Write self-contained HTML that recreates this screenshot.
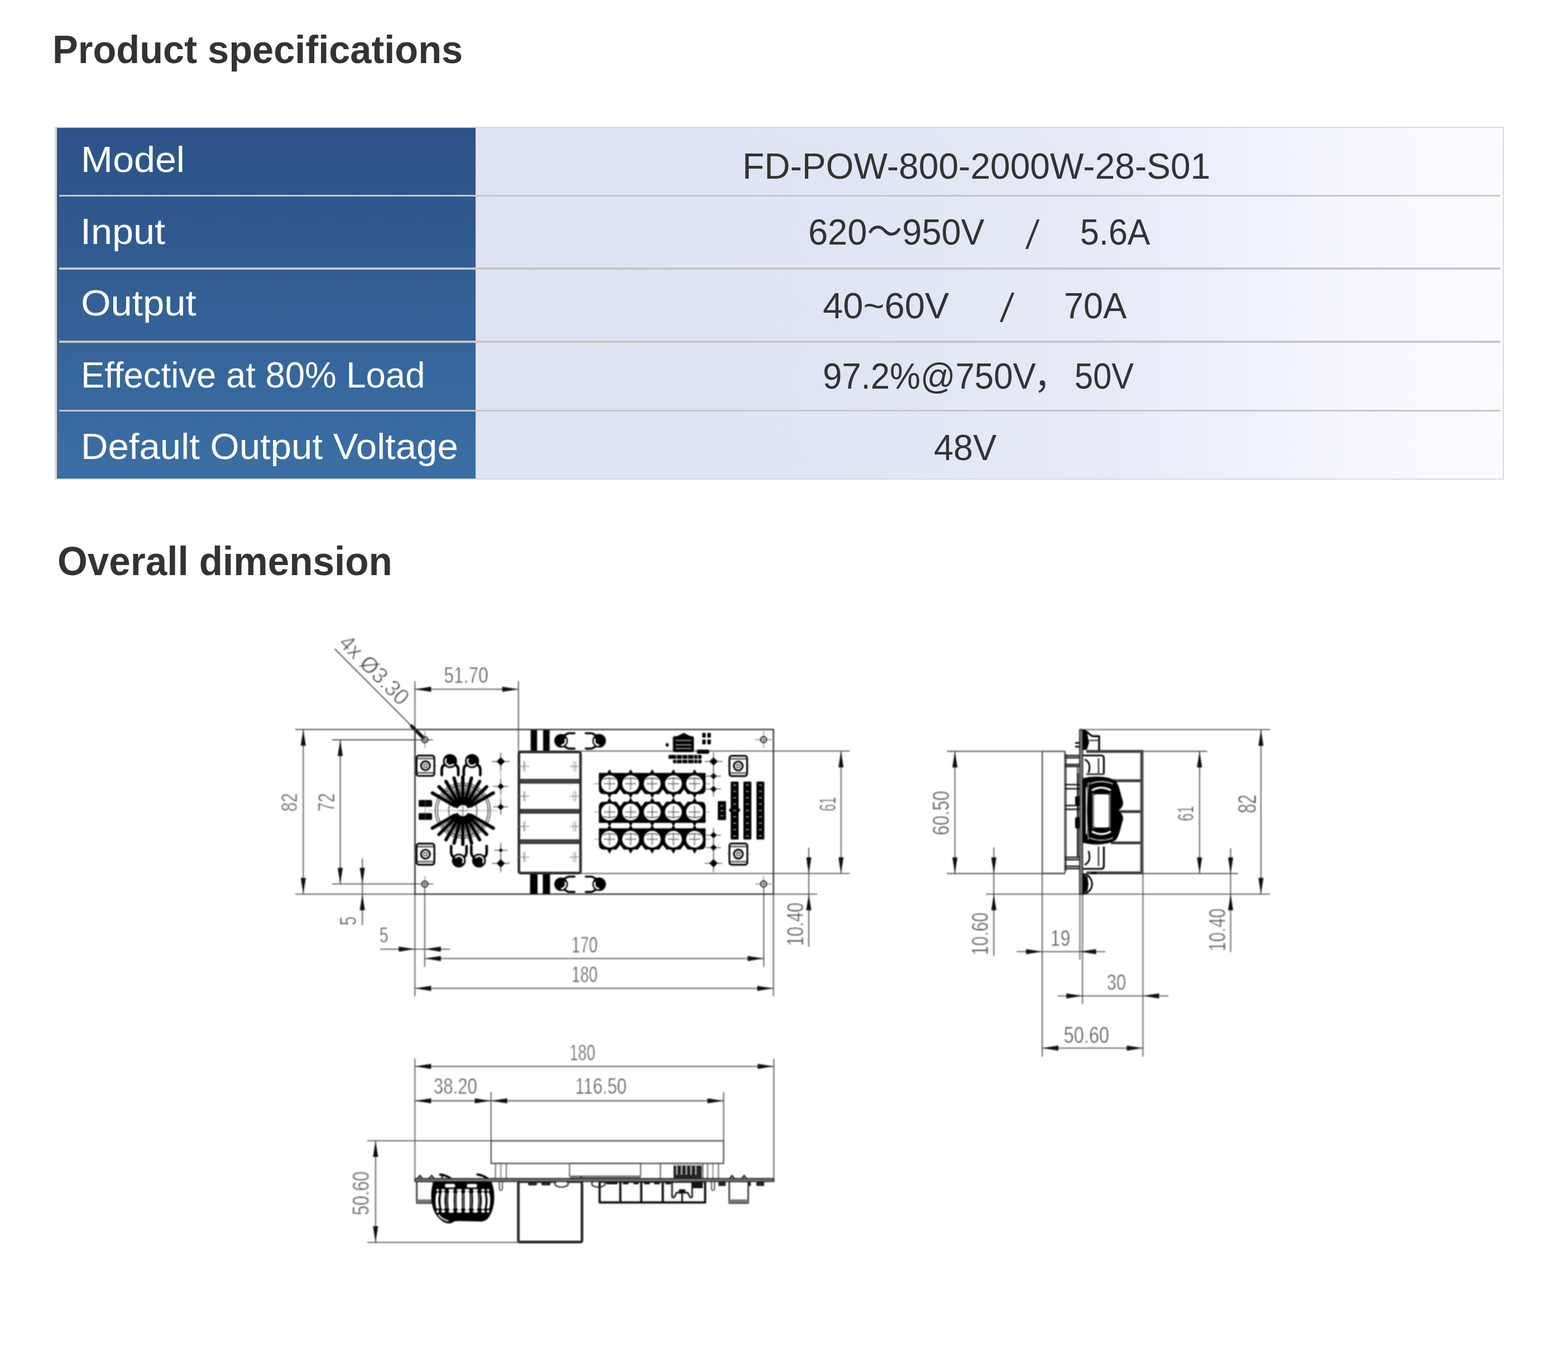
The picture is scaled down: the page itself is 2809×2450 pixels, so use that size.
<!DOCTYPE html>
<html lang="en">
<head>
<meta charset="utf-8">
<title>Product specifications</title>
<style>
html,body{margin:0;padding:0;background:#fff}
body{position:relative;width:2809px;height:2450px;overflow:hidden;font-family:"Liberation Sans","Noto Sans CJK SC",sans-serif;color:#333}
.t{position:absolute;display:block;white-space:pre;line-height:1;transform-origin:0 0;margin:0;padding:0;font-weight:400}
h1,h2{margin:0;padding:0;font-size:inherit;font-weight:inherit;position:absolute;left:0;top:0}
#spec{position:absolute;left:98px;top:227px;width:2596px;height:631.6px;box-sizing:border-box;
 border-style:solid;border-color:#ddd6d8;border-width:2px 2.5px 2.6px 4px;background:#e2e7f5}
#spec .k{position:absolute;left:0;top:0;width:750px;height:100%;background:linear-gradient(180deg,#2d5389 0%,#31598f 30%,#35659b 65%,#3a6fa5 100%)}
#spec .v{position:absolute;left:750px;top:0;right:0;height:100%;background:linear-gradient(90deg,#dee4f3 0%,#dfe5f4 35%,#e6eaf6 60%,#f3f5fb 82%,#fafbfe 100%)}
#spec .sep{position:absolute;left:3.5px;width:2582px;height:3.6px;background:#c9c6c7}
#spec .row{position:absolute;left:0;top:0;width:0;height:0}
#dwg{position:absolute;left:0;top:1100px}
</style>
</head>
<body>
<h1><span class="t" style="left:94.41px;top:49px;font-size:70.2px;line-height:79px;transform:scaleX(0.9767);font-weight:700;color:#333">Product specifications</span></h1>
<div id="spec">
<div class="k"></div><div class="v"></div>
<div class="sep" style="top:119.7px"></div>
<div class="sep" style="top:250.4px"></div>
<div class="sep" style="top:381.2px"></div>
<div class="sep" style="top:504.8px"></div>
<div class="row"><span class="t" style="left:42.7px;top:20px;font-size:65.7px;line-height:73px;transform:scaleX(1.0399);color:#fff">Model</span><span class="t" style="left:1227.54px;top:32px;font-size:65.7px;line-height:73px;transform:scaleX(0.9759);color:#333">FD-POW-800-2000W-28-S01</span></div>
<div class="row"><span class="t" style="left:42.19px;top:149px;font-size:65.7px;line-height:73px;transform:scaleX(1.0410);color:#fff">Input</span><span class="t" style="left:1345.6px;top:150px;font-size:65.55px;line-height:73px;transform:scaleX(0.9624);color:#333">620～950V</span><span class="t" style="left:1734.5px;top:151px;font-size:71.63px;line-height:80px;transform:matrix(0.8457,0,-0.1648,1,10.83,0);color:#333">/</span><span class="t" style="left:1832.56px;top:150px;font-size:65.55px;line-height:73px;transform:scaleX(0.9311);color:#333">5.6A</span></div>
<div class="row"><span class="t" style="left:42.74px;top:277px;font-size:65.7px;line-height:73px;transform:scaleX(1.0484);color:#fff">Output</span><span class="t" style="left:1371.51px;top:282px;font-size:65.7px;line-height:73px;transform:scaleX(0.9910);color:#333">40~60V</span><span class="t" style="left:1688.5px;top:282px;font-size:71.63px;line-height:80px;transform:matrix(0.8789,0,-0.1713,1,11.25,0);color:#333">/</span><span class="t" style="left:1803.76px;top:282px;font-size:65.7px;line-height:73px;transform:scaleX(0.9612);color:#333">70A</span></div>
<div class="row"><span class="t" style="left:43.09px;top:406px;font-size:65.7px;line-height:73px;transform:scaleX(0.9665);color:#fff">Effective at 80% Load</span><span class="t" style="left:1372.11px;top:408px;font-size:65.7px;line-height:73px;transform:scaleX(0.9391);color:#333">97.2%@750V</span><span class="t" style="left:1749.95px;top:408px;font-size:65.7px;line-height:73px;transform:scaleX(0.9523);color:#333">，</span><span class="t" style="left:1822.81px;top:408px;font-size:65.7px;line-height:73px;transform:scaleX(0.9072);color:#333">50V</span></div>
<div class="row"><span class="t" style="left:43.09px;top:534px;font-size:65.7px;line-height:73px;transform:scaleX(1.0224);color:#fff">Default Output Voltage</span><span class="t" style="left:1571.05px;top:536px;font-size:65.7px;line-height:73px;transform:scaleX(0.9600);color:#333">48V</span></div>
</div>
<h2><span class="t" style="left:102.76px;top:965px;font-size:71.8px;line-height:80px;transform:scaleX(0.9636);font-weight:700;color:#333">Overall dimension</span></h2>
<svg id="dwg" width="2809" height="1350" viewBox="0 1100 2809 1350" font-family="'Liberation Sans', sans-serif">
<style>#dwg text{stroke:#fff;stroke-width:1px;paint-order:fill stroke}</style>
<defs><filter id="soft" x="0" y="1100" width="2809" height="1350" filterUnits="userSpaceOnUse" color-interpolation-filters="sRGB"><feGaussianBlur stdDeviation="1.05"/></filter></defs>
<g filter="url(#soft)" stroke-linejoin="round">
<line x1="529" y1="1306.5" x2="743.3" y2="1306.5" stroke="#4d4d4d" stroke-width="1.8"/>
<line x1="529" y1="1601.3" x2="743.3" y2="1601.3" stroke="#4d4d4d" stroke-width="1.8"/>
<line x1="543.3" y1="1306.5" x2="543.3" y2="1601.3" stroke="#4d4d4d" stroke-width="1.8"/>
<polygon points="543.3,1306.5 547.9,1335.5 538.7,1335.5" fill="#111"/>
<polygon points="543.3,1601.3 538.7,1572.3 547.9,1572.3" fill="#111"/>
<text transform="translate(531.6 1452.3) rotate(-90)" x="-1.3" y="0" font-size="41.24" textLength="33.2" lengthAdjust="spacingAndGlyphs" fill="#404040">82</text>
<line x1="595" y1="1325" x2="775" y2="1325" stroke="#4d4d4d" stroke-width="1.8"/>
<line x1="595" y1="1583.2" x2="776" y2="1583.2" stroke="#4d4d4d" stroke-width="1.8"/>
<line x1="609.5" y1="1325" x2="609.5" y2="1583.2" stroke="#4d4d4d" stroke-width="1.8"/>
<polygon points="609.5,1325 614.1,1354 604.9,1354" fill="#111"/>
<polygon points="609.5,1583.2 604.9,1554.2 614.1,1554.2" fill="#111"/>
<text transform="translate(598.5 1452) rotate(-90)" x="-1.52" y="0" font-size="43.08" textLength="33.01" lengthAdjust="spacingAndGlyphs" fill="#404040">72</text>
<line x1="649.1" y1="1537.5" x2="649.1" y2="1656.7" stroke="#4d4d4d" stroke-width="1.8"/>
<polygon points="649.1,1583.2 644.5,1554.2 653.7,1554.2" fill="#111"/>
<polygon points="649.1,1601.3 653.7,1630.3 644.5,1630.3" fill="#111"/>
<text transform="translate(637.5 1656) rotate(-90)" x="-1.14" y="0" font-size="41.67" textLength="15.84" lengthAdjust="spacingAndGlyphs" fill="#404040">5</text>
<line x1="743.3" y1="1220" x2="743.3" y2="1784.5" stroke="#4d4d4d" stroke-width="1.8"/>
<line x1="1385.6" y1="1601.3" x2="1385.6" y2="1784.5" stroke="#4d4d4d" stroke-width="1.8"/>
<line x1="928.7" y1="1220" x2="928.7" y2="1347" stroke="#4d4d4d" stroke-width="1.8"/>
<line x1="743.3" y1="1234.4" x2="928.7" y2="1234.4" stroke="#4d4d4d" stroke-width="1.8"/>
<polygon points="743.3,1234.4 772.3,1229.8 772.3,1239" fill="#111"/>
<polygon points="928.7,1234.4 899.7,1239 899.7,1229.8" fill="#111"/>
<text x="795.13" y="1223.4" font-size="40.68" textLength="79.62" lengthAdjust="spacingAndGlyphs" fill="#404040">51.70</text>
<line x1="599.5" y1="1161.9" x2="748" y2="1311.2" stroke="#444" stroke-width="1.9"/>
<path d="M737.5 1300.5 L757.5 1320.6" fill="none" stroke="#111" stroke-width="6" stroke-linecap="round"/>
<text transform="translate(605 1153.5) rotate(45)" x="0" y="0" font-size="40.5" textLength="158" lengthAdjust="spacingAndGlyphs" fill="#404040">4x Ø3.30</text>
<line x1="760.8" y1="1590" x2="760.8" y2="1731.5" stroke="#4d4d4d" stroke-width="1.8"/>
<line x1="1368.3" y1="1590" x2="1368.3" y2="1731.5" stroke="#4d4d4d" stroke-width="1.8"/>
<line x1="681" y1="1699.8" x2="806.6" y2="1699.8" stroke="#4d4d4d" stroke-width="1.8"/>
<polygon points="743.3,1699.8 714.3,1704.4 714.3,1695.2" fill="#111"/>
<polygon points="760.8,1699.8 789.8,1695.2 789.8,1704.4" fill="#111"/>
<text x="679.85" y="1688" font-size="39.55" textLength="15.95" lengthAdjust="spacingAndGlyphs" fill="#404040">5</text>
<line x1="760.8" y1="1716.6" x2="1368.3" y2="1716.6" stroke="#4d4d4d" stroke-width="1.8"/>
<polygon points="760.8,1716.6 789.8,1712 789.8,1721.2" fill="#111"/>
<polygon points="1368.3,1716.6 1339.3,1721.2 1339.3,1712" fill="#111"/>
<text x="1023.87" y="1706.3" font-size="41.1" textLength="46.73" lengthAdjust="spacingAndGlyphs" fill="#404040">170</text>
<line x1="743.3" y1="1770.1" x2="1385.6" y2="1770.1" stroke="#4d4d4d" stroke-width="1.8"/>
<polygon points="743.3,1770.1 772.3,1765.5 772.3,1774.7" fill="#111"/>
<polygon points="1385.6,1770.1 1356.6,1774.7 1356.6,1765.5" fill="#111"/>
<text x="1023.87" y="1759.4" font-size="41.1" textLength="46.73" lengthAdjust="spacingAndGlyphs" fill="#404040">180</text>
<line x1="1040" y1="1345.2" x2="1522.3" y2="1345.2" stroke="#4d4d4d" stroke-width="1.8"/>
<line x1="1040" y1="1564.4" x2="1522.3" y2="1564.4" stroke="#4d4d4d" stroke-width="1.8"/>
<line x1="1506.6" y1="1345.2" x2="1506.6" y2="1564.4" stroke="#4d4d4d" stroke-width="1.8"/>
<polygon points="1506.6,1345.2 1511.2,1374.2 1502,1374.2" fill="#111"/>
<polygon points="1506.6,1564.4 1502,1535.4 1511.2,1535.4" fill="#111"/>
<text transform="translate(1496.5 1451.9) rotate(-90)" x="-1.18" y="0" font-size="43.08" textLength="25.81" lengthAdjust="spacingAndGlyphs" fill="#404040">61</text>
<line x1="1385.6" y1="1601.3" x2="1464.4" y2="1601.3" stroke="#4d4d4d" stroke-width="1.8"/>
<line x1="1448.9" y1="1518" x2="1448.9" y2="1695.6" stroke="#4d4d4d" stroke-width="1.8"/>
<polygon points="1448.9,1564.4 1444.3,1535.4 1453.5,1535.4" fill="#111"/>
<polygon points="1448.9,1601.3 1453.5,1630.3 1444.3,1630.3" fill="#111"/>
<text transform="translate(1439 1691.9) rotate(-90)" x="-2.37" y="0" font-size="42.94" textLength="77.89" lengthAdjust="spacingAndGlyphs" fill="#404040">10.40</text>
<rect x="743.3" y="1306.5" width="642.3" height="294.8" fill="none" stroke="#3a3a3a" stroke-width="2.6"/>
<line x1="746" y1="1324.6" x2="776" y2="1324.6" stroke="#777" stroke-width="1.3"/>
<line x1="761" y1="1309.6" x2="761" y2="1339.6" stroke="#777" stroke-width="1.3"/>
<circle cx="761" cy="1324.6" r="5.4" fill="none" stroke="#333" stroke-width="2.4"/>
<line x1="758" y1="1324.6" x2="764" y2="1324.6" stroke="#555" stroke-width="1.2"/>
<line x1="761" y1="1321.6" x2="761" y2="1327.6" stroke="#555" stroke-width="1.2"/>
<line x1="746" y1="1583.4" x2="776" y2="1583.4" stroke="#777" stroke-width="1.3"/>
<line x1="761" y1="1568.4" x2="761" y2="1598.4" stroke="#777" stroke-width="1.3"/>
<circle cx="761" cy="1583.4" r="5.4" fill="none" stroke="#333" stroke-width="2.4"/>
<line x1="758" y1="1583.4" x2="764" y2="1583.4" stroke="#555" stroke-width="1.2"/>
<line x1="761" y1="1580.4" x2="761" y2="1586.4" stroke="#555" stroke-width="1.2"/>
<line x1="1353" y1="1324.7" x2="1383" y2="1324.7" stroke="#777" stroke-width="1.3"/>
<line x1="1368" y1="1309.7" x2="1368" y2="1339.7" stroke="#777" stroke-width="1.3"/>
<circle cx="1368" cy="1324.7" r="5.4" fill="none" stroke="#333" stroke-width="2.4"/>
<line x1="1365" y1="1324.7" x2="1371" y2="1324.7" stroke="#555" stroke-width="1.2"/>
<line x1="1368" y1="1321.7" x2="1368" y2="1327.7" stroke="#555" stroke-width="1.2"/>
<line x1="1353" y1="1583.2" x2="1383" y2="1583.2" stroke="#777" stroke-width="1.3"/>
<line x1="1368" y1="1568.2" x2="1368" y2="1598.2" stroke="#777" stroke-width="1.3"/>
<circle cx="1368" cy="1583.2" r="5.4" fill="none" stroke="#333" stroke-width="2.4"/>
<line x1="1365" y1="1583.2" x2="1371" y2="1583.2" stroke="#555" stroke-width="1.2"/>
<line x1="1368" y1="1580.2" x2="1368" y2="1586.2" stroke="#555" stroke-width="1.2"/>
<line x1="742.1" y1="1371.3" x2="783.3" y2="1371.3" stroke="#999" stroke-width="1"/>
<rect x="746.3" y="1353.1" width="31.8" height="36.4" fill="#fff" stroke="#000" stroke-width="3.2" rx="4"/>
<line x1="747.1" y1="1358.5" x2="777.3" y2="1358.5" stroke="#333" stroke-width="2.2"/>
<line x1="747.1" y1="1384.1" x2="777.3" y2="1384.1" stroke="#333" stroke-width="2.2"/>
<circle cx="762.2" cy="1371.3" r="8" fill="none" stroke="#000" stroke-width="3.2"/>
<rect x="759.4" y="1368.5" width="5.6" height="5.6" fill="none" stroke="#333" stroke-width="1.6"/>
<line x1="742.1" y1="1529.75" x2="783.3" y2="1529.75" stroke="#999" stroke-width="1"/>
<rect x="746.3" y="1510.9" width="31.8" height="37.7" fill="#fff" stroke="#000" stroke-width="3.2" rx="4"/>
<line x1="747.1" y1="1516.3" x2="777.3" y2="1516.3" stroke="#333" stroke-width="2.2"/>
<line x1="747.1" y1="1543.2" x2="777.3" y2="1543.2" stroke="#333" stroke-width="2.2"/>
<circle cx="762.2" cy="1529.75" r="8" fill="none" stroke="#000" stroke-width="3.2"/>
<rect x="759.4" y="1526.95" width="5.6" height="5.6" fill="none" stroke="#333" stroke-width="1.6"/>
<line x1="1302.5" y1="1371.75" x2="1343.6" y2="1371.75" stroke="#999" stroke-width="1"/>
<rect x="1306.7" y="1353.7" width="31.7" height="36.1" fill="#fff" stroke="#000" stroke-width="3.2" rx="4"/>
<line x1="1307.5" y1="1359.1" x2="1337.6" y2="1359.1" stroke="#333" stroke-width="2.2"/>
<line x1="1307.5" y1="1384.4" x2="1337.6" y2="1384.4" stroke="#333" stroke-width="2.2"/>
<circle cx="1322.55" cy="1371.75" r="8" fill="none" stroke="#000" stroke-width="3.2"/>
<rect x="1319.75" y="1368.95" width="5.6" height="5.6" fill="none" stroke="#333" stroke-width="1.6"/>
<line x1="1302.5" y1="1529.65" x2="1344" y2="1529.65" stroke="#999" stroke-width="1"/>
<rect x="1306.7" y="1510.7" width="32.1" height="37.9" fill="#fff" stroke="#000" stroke-width="3.2" rx="4"/>
<line x1="1307.5" y1="1516.1" x2="1338" y2="1516.1" stroke="#333" stroke-width="2.2"/>
<line x1="1307.5" y1="1543.2" x2="1338" y2="1543.2" stroke="#333" stroke-width="2.2"/>
<circle cx="1322.75" cy="1529.65" r="8" fill="none" stroke="#000" stroke-width="3.2"/>
<rect x="1319.95" y="1526.85" width="5.6" height="5.6" fill="none" stroke="#333" stroke-width="1.6"/>
<circle cx="806.2" cy="1363" r="12.6" fill="#000"/>
<path d="M799 1359.5 A8 8 0 0 0 811.7 1368.8" fill="none" stroke="#fff" stroke-width="3" stroke-linecap="round"/>
<path d="M796.2 1370 Q791.4 1372 791.4 1379 L791.4 1388" fill="none" stroke="#000" stroke-width="4.8" stroke-linecap="round"/>
<path d="M816.2 1370 Q821 1372 821 1379 L821 1388" fill="none" stroke="#000" stroke-width="4.8" stroke-linecap="round"/>
<circle cx="845.6" cy="1363" r="12.6" fill="#000"/>
<path d="M838.4 1359.5 A8 8 0 0 0 851.1 1368.8" fill="none" stroke="#fff" stroke-width="3" stroke-linecap="round"/>
<path d="M835.6 1370 Q830.8 1372 830.8 1379 L830.8 1388" fill="none" stroke="#000" stroke-width="4.8" stroke-linecap="round"/>
<path d="M855.6 1370 Q860.4 1372 860.4 1379 L860.4 1388" fill="none" stroke="#000" stroke-width="4.8" stroke-linecap="round"/>
<circle cx="822" cy="1541.2" r="12.4" fill="#000"/>
<path d="M829.2 1544.7 A8 8 0 0 0 816.5 1535.4" fill="none" stroke="#fff" stroke-width="3" stroke-linecap="round"/>
<path d="M812 1534.2 Q808.2 1532.2 808.2 1525.2 L808.2 1515.2" fill="none" stroke="#000" stroke-width="4.6" stroke-linecap="round"/>
<path d="M832 1534.2 Q835.8 1532.2 835.8 1525.2 L835.8 1515.2" fill="none" stroke="#000" stroke-width="4.6" stroke-linecap="round"/>
<circle cx="858.1" cy="1541.2" r="12.4" fill="#000"/>
<path d="M865.3 1544.7 A8 8 0 0 0 852.6 1535.4" fill="none" stroke="#fff" stroke-width="3" stroke-linecap="round"/>
<path d="M848.1 1534.2 Q844.3 1532.2 844.3 1525.2 L844.3 1515.2" fill="none" stroke="#000" stroke-width="4.6" stroke-linecap="round"/>
<path d="M868.1 1534.2 Q871.9 1532.2 871.9 1525.2 L871.9 1515.2" fill="none" stroke="#000" stroke-width="4.6" stroke-linecap="round"/>
<rect x="750" y="1432.8" width="24" height="12" fill="#000" rx="1.5"/>
<rect x="750" y="1456.2" width="24" height="12" fill="#000" rx="1.5"/>
<line x1="762" y1="1432" x2="762" y2="1469" stroke="#666" stroke-width="1"/>
<line x1="767.1" y1="1451.7" x2="891.1" y2="1451.7" stroke="#999" stroke-width="1.1"/>
<circle cx="829.1" cy="1451.7" r="49.3" fill="none" stroke="#444" stroke-width="1.6"/>
<circle cx="829.1" cy="1451.7" r="45.3" fill="none" stroke="#444" stroke-width="1.6"/>
<circle cx="829.1" cy="1451.7" r="25.5" fill="none" stroke="#444" stroke-width="1.6"/>
<path d="M851.31 1434.65 L866.39 1423.09M846.15 1429.49 L857.71 1414.41M839.82 1425.83 L847.09 1408.28M832.75 1423.94 L835.23 1405.1M825.45 1423.94 L822.97 1405.1M818.38 1425.83 L811.11 1408.28M812.05 1429.49 L800.49 1414.41M806.89 1434.65 L791.81 1423.09M806.89 1468.75 L791.81 1480.31M812.05 1473.91 L800.49 1488.99M818.38 1477.57 L811.11 1495.12M825.45 1479.46 L822.97 1498.3M832.75 1479.46 L835.23 1498.3M839.82 1477.57 L847.09 1495.12M846.15 1473.91 L857.71 1488.99M851.31 1468.75 L866.39 1480.31" fill="none" stroke="#222" stroke-width="1.5" stroke-linecap="butt"/>
<path d="M843.82 1443.2 L883.66 1420.2M841.12 1439.68 L871.74 1409.06M837.6 1436.98 L859.25 1399.48M833.5 1435.28 L844.71 1393.45M829.1 1434.7 L829.1 1391.4M824.7 1435.28 L813.49 1393.45M820.6 1436.98 L798.95 1399.48M817.08 1439.68 L786.46 1409.06M814.38 1443.2 L774.54 1420.2M814.38 1460.2 L774.54 1483.2M817.08 1463.72 L786.46 1494.34M820.6 1466.42 L798.95 1503.92M824.7 1468.12 L813.49 1509.95M829.1 1468.7 L829.1 1512M833.5 1468.12 L844.71 1509.95M837.6 1466.42 L859.25 1503.92M841.12 1463.72 L871.74 1494.34M843.82 1460.2 L883.66 1483.2" fill="none" stroke="#000" stroke-width="6" stroke-linecap="round"/>
<path d="M845.09 1444.58 A17.5 17.5 0 0 0 813.11 1444.58" fill="none" stroke="#000" stroke-width="15"/>
<path d="M813.11 1458.82 A17.5 17.5 0 0 0 845.09 1458.82" fill="none" stroke="#000" stroke-width="15"/>
<circle cx="829.1" cy="1451.7" r="9.2" fill="#fff"/>
<line x1="820.1" y1="1451.7" x2="838.1" y2="1451.7" stroke="#666" stroke-width="1.4"/>
<line x1="829.1" y1="1442.7" x2="829.1" y2="1460.7" stroke="#666" stroke-width="1.4"/>
<line x1="897.1" y1="1350" x2="897.1" y2="1460" stroke="#888" stroke-width="1"/>
<line x1="897.1" y1="1508" x2="897.1" y2="1560" stroke="#888" stroke-width="1"/>
<line x1="881.1" y1="1363.7" x2="913.1" y2="1363.7" stroke="#555" stroke-width="1.5"/>
<line x1="897.1" y1="1347.7" x2="897.1" y2="1379.7" stroke="#555" stroke-width="1.5"/>
<path d="M897.1 1355.3 Q899.62 1361.18 905.5 1363.7 Q899.62 1366.22 897.1 1372.1 Q894.58 1366.22 888.7 1363.7 Q894.58 1361.18 897.1 1355.3Z" fill="#000" stroke="none" stroke-width="0"/>
<circle cx="897.1" cy="1363.7" r="5.54" fill="#000"/>
<line x1="883.6" y1="1408.5" x2="910.6" y2="1408.5" stroke="#555" stroke-width="1.5"/>
<line x1="897.1" y1="1395" x2="897.1" y2="1422" stroke="#555" stroke-width="1.5"/>
<path d="M897.1 1402.3 Q898.96 1406.64 903.3 1408.5 Q898.96 1410.36 897.1 1414.7 Q895.24 1410.36 890.9 1408.5 Q895.24 1406.64 897.1 1402.3Z" fill="#000" stroke="none" stroke-width="0"/>
<circle cx="897.1" cy="1408.5" r="4.09" fill="#000"/>
<line x1="883.6" y1="1445.1" x2="910.6" y2="1445.1" stroke="#555" stroke-width="1.5"/>
<line x1="897.1" y1="1431.6" x2="897.1" y2="1458.6" stroke="#555" stroke-width="1.5"/>
<path d="M897.1 1438.9 Q898.96 1443.24 903.3 1445.1 Q898.96 1446.96 897.1 1451.3 Q895.24 1446.96 890.9 1445.1 Q895.24 1443.24 897.1 1438.9Z" fill="#000" stroke="none" stroke-width="0"/>
<circle cx="897.1" cy="1445.1" r="4.09" fill="#000"/>
<line x1="885.1" y1="1522.8" x2="909.1" y2="1522.8" stroke="#555" stroke-width="1.5"/>
<line x1="897.1" y1="1510.8" x2="897.1" y2="1534.8" stroke="#555" stroke-width="1.5"/>
<path d="M897.1 1518.8 Q898.3 1521.6 901.1 1522.8 Q898.3 1524 897.1 1526.8 Q895.9 1524 893.1 1522.8 Q895.9 1521.6 897.1 1518.8Z" fill="#000" stroke="none" stroke-width="0"/>
<circle cx="897.1" cy="1522.8" r="2.64" fill="#000"/>
<line x1="881.1" y1="1546.2" x2="913.1" y2="1546.2" stroke="#555" stroke-width="1.5"/>
<line x1="897.1" y1="1530.2" x2="897.1" y2="1562.2" stroke="#555" stroke-width="1.5"/>
<path d="M897.1 1537.8 Q899.62 1543.68 905.5 1546.2 Q899.62 1548.72 897.1 1554.6 Q894.58 1548.72 888.7 1546.2 Q894.58 1543.68 897.1 1537.8Z" fill="#000" stroke="none" stroke-width="0"/>
<circle cx="897.1" cy="1546.2" r="5.54" fill="#000"/>
<rect x="950.7" y="1307.5" width="11.5" height="37" fill="#000"/>
<rect x="973" y="1307.5" width="11.6" height="37" fill="#000"/>
<rect x="949.6" y="1564" width="13.4" height="37" fill="#000"/>
<rect x="972.4" y="1564" width="13" height="37" fill="#000"/>
<rect x="929.6" y="1346.6" width="110.4" height="217" fill="#fff" stroke="#2a2a2a" stroke-width="4.6" rx="3"/>
<rect x="929.6" y="1395" width="110.4" height="8.4" fill="#333"/>
<line x1="932.6" y1="1399.2" x2="1037" y2="1399.2" stroke="#666" stroke-width="1.2"/>
<rect x="929.6" y="1448.8" width="110.4" height="8.4" fill="#333"/>
<line x1="932.6" y1="1453" x2="1037" y2="1453" stroke="#666" stroke-width="1.2"/>
<rect x="929.6" y="1503.2" width="110.4" height="8.4" fill="#333"/>
<line x1="932.6" y1="1507.4" x2="1037" y2="1507.4" stroke="#666" stroke-width="1.2"/>
<line x1="928.5" y1="1372.5" x2="948.5" y2="1372.5" stroke="#777" stroke-width="1.2"/>
<line x1="938.5" y1="1363.5" x2="938.5" y2="1381.5" stroke="#777" stroke-width="1.2"/>
<path d="M941.5 1363.5 q-3 9 0 18" fill="none" stroke="#999" stroke-width="1.1"/>
<line x1="1021" y1="1372.5" x2="1041" y2="1372.5" stroke="#777" stroke-width="1.2"/>
<line x1="1031" y1="1363.5" x2="1031" y2="1381.5" stroke="#777" stroke-width="1.2"/>
<path d="M1028 1363.5 q-3 9 0 18" fill="none" stroke="#999" stroke-width="1.1"/>
<line x1="928.5" y1="1426" x2="948.5" y2="1426" stroke="#777" stroke-width="1.2"/>
<line x1="938.5" y1="1417" x2="938.5" y2="1435" stroke="#777" stroke-width="1.2"/>
<path d="M941.5 1417 q-3 9 0 18" fill="none" stroke="#999" stroke-width="1.1"/>
<line x1="1021" y1="1426" x2="1041" y2="1426" stroke="#777" stroke-width="1.2"/>
<line x1="1031" y1="1417" x2="1031" y2="1435" stroke="#777" stroke-width="1.2"/>
<path d="M1028 1417 q-3 9 0 18" fill="none" stroke="#999" stroke-width="1.1"/>
<line x1="928.5" y1="1480" x2="948.5" y2="1480" stroke="#777" stroke-width="1.2"/>
<line x1="938.5" y1="1471" x2="938.5" y2="1489" stroke="#777" stroke-width="1.2"/>
<path d="M941.5 1471 q-3 9 0 18" fill="none" stroke="#999" stroke-width="1.1"/>
<line x1="1021" y1="1480" x2="1041" y2="1480" stroke="#777" stroke-width="1.2"/>
<line x1="1031" y1="1471" x2="1031" y2="1489" stroke="#777" stroke-width="1.2"/>
<path d="M1028 1471 q-3 9 0 18" fill="none" stroke="#999" stroke-width="1.1"/>
<line x1="928.5" y1="1535" x2="948.5" y2="1535" stroke="#777" stroke-width="1.2"/>
<line x1="938.5" y1="1526" x2="938.5" y2="1544" stroke="#777" stroke-width="1.2"/>
<path d="M941.5 1526 q-3 9 0 18" fill="none" stroke="#999" stroke-width="1.1"/>
<line x1="1021" y1="1535" x2="1041" y2="1535" stroke="#777" stroke-width="1.2"/>
<line x1="1031" y1="1526" x2="1031" y2="1544" stroke="#777" stroke-width="1.2"/>
<path d="M1028 1526 q-3 9 0 18" fill="none" stroke="#999" stroke-width="1.1"/>
<path d="M1011.2 1316.8 L1018.2 1313.2 L1029.2 1313.2 M1011.2 1336.8 L1018.2 1340.6 L1029.2 1340.6" fill="none" stroke="#000" stroke-width="3.6" stroke-linecap="round" stroke-linejoin="round"/>
<circle cx="1005.2" cy="1326.8" r="12.2" fill="#000"/>
<path d="M1006.2 1334.8 A8 8 0 0 0 1012.8 1323.8" fill="none" stroke="#fff" stroke-width="3" stroke-linecap="round"/>
<path d="M1067.3 1316.8 L1060.3 1313.2 L1049.3 1313.2 M1067.3 1336.8 L1060.3 1340.6 L1049.3 1340.6" fill="none" stroke="#000" stroke-width="3.6" stroke-linecap="round" stroke-linejoin="round"/>
<circle cx="1073.3" cy="1326.8" r="12.2" fill="#000"/>
<path d="M1072.3 1334.8 A8 8 0 0 1 1065.7 1323.8" fill="none" stroke="#fff" stroke-width="3" stroke-linecap="round"/>
<path d="M1011.2 1573.6 L1018.2 1570 L1029.2 1570 M1011.2 1593.6 L1018.2 1597.4 L1029.2 1597.4" fill="none" stroke="#000" stroke-width="3.6" stroke-linecap="round" stroke-linejoin="round"/>
<circle cx="1005.2" cy="1583.6" r="12.2" fill="#000"/>
<path d="M1006.2 1591.6 A8 8 0 0 0 1012.8 1580.6" fill="none" stroke="#fff" stroke-width="3" stroke-linecap="round"/>
<path d="M1067.3 1573.6 L1060.3 1570 L1049.3 1570 M1067.3 1593.6 L1060.3 1597.4 L1049.3 1597.4" fill="none" stroke="#000" stroke-width="3.6" stroke-linecap="round" stroke-linejoin="round"/>
<circle cx="1073.3" cy="1583.6" r="12.2" fill="#000"/>
<path d="M1072.3 1591.6 A8 8 0 0 1 1065.7 1580.6" fill="none" stroke="#fff" stroke-width="3" stroke-linecap="round"/>
<line x1="1064" y1="1403.6" x2="1272" y2="1403.6" stroke="#777" stroke-width="1.1"/>
<path d="M1072.8 1384.2 L1264 1384.2 L1264 1413.2 Q1264 1422.2 1255 1422.2 L1231.85 1422.2 L1225.35 1413.7 L1218.85 1422.2 L1193.9 1422.2 L1187.4 1413.7 L1180.9 1422.2 L1155.6 1422.2 L1149.1 1413.7 L1142.6 1422.2 L1117.35 1422.2 L1110.85 1413.7 L1104.35 1422.2 L1081.8 1422.2 Q1072.8 1422.2 1072.8 1413.2 Z" fill="#000" stroke="none" stroke-width="0"/>
<polygon points="1087.4,1385.6 1091.9,1377.6 1096.4,1385.6" fill="#000"/>
<polygon points="1087.4,1421.6 1091.9,1429.6 1096.4,1421.6" fill="#000"/>
<polygon points="1125.3,1385.6 1129.8,1377.6 1134.3,1385.6" fill="#000"/>
<polygon points="1125.3,1421.6 1129.8,1429.6 1134.3,1421.6" fill="#000"/>
<polygon points="1163.9,1385.6 1168.4,1377.6 1172.9,1385.6" fill="#000"/>
<polygon points="1163.9,1421.6 1168.4,1429.6 1172.9,1421.6" fill="#000"/>
<polygon points="1201.9,1385.6 1206.4,1377.6 1210.9,1385.6" fill="#000"/>
<polygon points="1201.9,1421.6 1206.4,1429.6 1210.9,1421.6" fill="#000"/>
<polygon points="1239.8,1385.6 1244.3,1377.6 1248.8,1385.6" fill="#000"/>
<polygon points="1239.8,1421.6 1244.3,1429.6 1248.8,1421.6" fill="#000"/>
<circle cx="1091.9" cy="1403.6" r="15" fill="#fff"/>
<line x1="1081.9" y1="1403.6" x2="1101.9" y2="1403.6" stroke="#555" stroke-width="1.5"/>
<line x1="1091.9" y1="1392.6" x2="1091.9" y2="1414.6" stroke="#555" stroke-width="1.5"/>
<path d="M1080.9 1395.6 q11 -4 22 0" fill="none" stroke="#444" stroke-width="1.6"/>
<circle cx="1129.8" cy="1403.6" r="15" fill="#fff"/>
<line x1="1119.8" y1="1403.6" x2="1139.8" y2="1403.6" stroke="#555" stroke-width="1.5"/>
<line x1="1129.8" y1="1392.6" x2="1129.8" y2="1414.6" stroke="#555" stroke-width="1.5"/>
<path d="M1118.8 1395.6 q11 -4 22 0" fill="none" stroke="#444" stroke-width="1.6"/>
<circle cx="1168.4" cy="1403.6" r="15" fill="#fff"/>
<line x1="1158.4" y1="1403.6" x2="1178.4" y2="1403.6" stroke="#555" stroke-width="1.5"/>
<line x1="1168.4" y1="1392.6" x2="1168.4" y2="1414.6" stroke="#555" stroke-width="1.5"/>
<path d="M1157.4 1395.6 q11 -4 22 0" fill="none" stroke="#444" stroke-width="1.6"/>
<circle cx="1206.4" cy="1403.6" r="15" fill="#fff"/>
<line x1="1196.4" y1="1403.6" x2="1216.4" y2="1403.6" stroke="#555" stroke-width="1.5"/>
<line x1="1206.4" y1="1392.6" x2="1206.4" y2="1414.6" stroke="#555" stroke-width="1.5"/>
<path d="M1195.4 1395.6 q11 -4 22 0" fill="none" stroke="#444" stroke-width="1.6"/>
<circle cx="1244.3" cy="1403.6" r="15" fill="#fff"/>
<line x1="1234.3" y1="1403.6" x2="1254.3" y2="1403.6" stroke="#555" stroke-width="1.5"/>
<line x1="1244.3" y1="1392.6" x2="1244.3" y2="1414.6" stroke="#555" stroke-width="1.5"/>
<path d="M1233.3 1395.6 q11 -4 22 0" fill="none" stroke="#444" stroke-width="1.6"/>
<line x1="1064" y1="1454.3" x2="1272" y2="1454.3" stroke="#777" stroke-width="1.1"/>
<path d="M1072.8 1473.7 L1264 1473.7 L1264 1444.7 Q1264 1435.7 1255 1435.7 L1231.85 1435.7 L1225.35 1444.2 L1218.85 1435.7 L1193.9 1435.7 L1187.4 1444.2 L1180.9 1435.7 L1155.6 1435.7 L1149.1 1444.2 L1142.6 1435.7 L1117.35 1435.7 L1110.85 1444.2 L1104.35 1435.7 L1081.8 1435.7 Q1072.8 1435.7 1072.8 1444.7 Z" fill="#000" stroke="none" stroke-width="0"/>
<polygon points="1087.4,1436.3 1091.9,1428.3 1096.4,1436.3" fill="#000"/>
<polygon points="1087.4,1472.3 1091.9,1480.3 1096.4,1472.3" fill="#000"/>
<polygon points="1125.3,1436.3 1129.8,1428.3 1134.3,1436.3" fill="#000"/>
<polygon points="1125.3,1472.3 1129.8,1480.3 1134.3,1472.3" fill="#000"/>
<polygon points="1163.9,1436.3 1168.4,1428.3 1172.9,1436.3" fill="#000"/>
<polygon points="1163.9,1472.3 1168.4,1480.3 1172.9,1472.3" fill="#000"/>
<polygon points="1201.9,1436.3 1206.4,1428.3 1210.9,1436.3" fill="#000"/>
<polygon points="1201.9,1472.3 1206.4,1480.3 1210.9,1472.3" fill="#000"/>
<polygon points="1239.8,1436.3 1244.3,1428.3 1248.8,1436.3" fill="#000"/>
<polygon points="1239.8,1472.3 1244.3,1480.3 1248.8,1472.3" fill="#000"/>
<circle cx="1091.9" cy="1454.3" r="15" fill="#fff"/>
<line x1="1081.9" y1="1454.3" x2="1101.9" y2="1454.3" stroke="#555" stroke-width="1.5"/>
<line x1="1091.9" y1="1443.3" x2="1091.9" y2="1465.3" stroke="#555" stroke-width="1.5"/>
<path d="M1080.9 1462.3 q11 4 22 0" fill="none" stroke="#444" stroke-width="1.6"/>
<circle cx="1129.8" cy="1454.3" r="15" fill="#fff"/>
<line x1="1119.8" y1="1454.3" x2="1139.8" y2="1454.3" stroke="#555" stroke-width="1.5"/>
<line x1="1129.8" y1="1443.3" x2="1129.8" y2="1465.3" stroke="#555" stroke-width="1.5"/>
<path d="M1118.8 1462.3 q11 4 22 0" fill="none" stroke="#444" stroke-width="1.6"/>
<circle cx="1168.4" cy="1454.3" r="15" fill="#fff"/>
<line x1="1158.4" y1="1454.3" x2="1178.4" y2="1454.3" stroke="#555" stroke-width="1.5"/>
<line x1="1168.4" y1="1443.3" x2="1168.4" y2="1465.3" stroke="#555" stroke-width="1.5"/>
<path d="M1157.4 1462.3 q11 4 22 0" fill="none" stroke="#444" stroke-width="1.6"/>
<circle cx="1206.4" cy="1454.3" r="15" fill="#fff"/>
<line x1="1196.4" y1="1454.3" x2="1216.4" y2="1454.3" stroke="#555" stroke-width="1.5"/>
<line x1="1206.4" y1="1443.3" x2="1206.4" y2="1465.3" stroke="#555" stroke-width="1.5"/>
<path d="M1195.4 1462.3 q11 4 22 0" fill="none" stroke="#444" stroke-width="1.6"/>
<circle cx="1244.3" cy="1454.3" r="15" fill="#fff"/>
<line x1="1234.3" y1="1454.3" x2="1254.3" y2="1454.3" stroke="#555" stroke-width="1.5"/>
<line x1="1244.3" y1="1443.3" x2="1244.3" y2="1465.3" stroke="#555" stroke-width="1.5"/>
<path d="M1233.3 1462.3 q11 4 22 0" fill="none" stroke="#444" stroke-width="1.6"/>
<line x1="1064" y1="1503" x2="1272" y2="1503" stroke="#777" stroke-width="1.1"/>
<path d="M1072.8 1483.6 L1264 1483.6 L1264 1512.6 Q1264 1521.6 1255 1521.6 L1231.85 1521.6 L1225.35 1513.1 L1218.85 1521.6 L1193.9 1521.6 L1187.4 1513.1 L1180.9 1521.6 L1155.6 1521.6 L1149.1 1513.1 L1142.6 1521.6 L1117.35 1521.6 L1110.85 1513.1 L1104.35 1521.6 L1081.8 1521.6 Q1072.8 1521.6 1072.8 1512.6 Z" fill="#000" stroke="none" stroke-width="0"/>
<polygon points="1087.4,1485 1091.9,1477 1096.4,1485" fill="#000"/>
<polygon points="1087.4,1521 1091.9,1529 1096.4,1521" fill="#000"/>
<polygon points="1125.3,1485 1129.8,1477 1134.3,1485" fill="#000"/>
<polygon points="1125.3,1521 1129.8,1529 1134.3,1521" fill="#000"/>
<polygon points="1163.9,1485 1168.4,1477 1172.9,1485" fill="#000"/>
<polygon points="1163.9,1521 1168.4,1529 1172.9,1521" fill="#000"/>
<polygon points="1201.9,1485 1206.4,1477 1210.9,1485" fill="#000"/>
<polygon points="1201.9,1521 1206.4,1529 1210.9,1521" fill="#000"/>
<polygon points="1239.8,1485 1244.3,1477 1248.8,1485" fill="#000"/>
<polygon points="1239.8,1521 1244.3,1529 1248.8,1521" fill="#000"/>
<circle cx="1091.9" cy="1503" r="15" fill="#fff"/>
<line x1="1081.9" y1="1503" x2="1101.9" y2="1503" stroke="#555" stroke-width="1.5"/>
<line x1="1091.9" y1="1492" x2="1091.9" y2="1514" stroke="#555" stroke-width="1.5"/>
<path d="M1080.9 1495 q11 -4 22 0" fill="none" stroke="#444" stroke-width="1.6"/>
<circle cx="1129.8" cy="1503" r="15" fill="#fff"/>
<line x1="1119.8" y1="1503" x2="1139.8" y2="1503" stroke="#555" stroke-width="1.5"/>
<line x1="1129.8" y1="1492" x2="1129.8" y2="1514" stroke="#555" stroke-width="1.5"/>
<path d="M1118.8 1495 q11 -4 22 0" fill="none" stroke="#444" stroke-width="1.6"/>
<circle cx="1168.4" cy="1503" r="15" fill="#fff"/>
<line x1="1158.4" y1="1503" x2="1178.4" y2="1503" stroke="#555" stroke-width="1.5"/>
<line x1="1168.4" y1="1492" x2="1168.4" y2="1514" stroke="#555" stroke-width="1.5"/>
<path d="M1157.4 1495 q11 -4 22 0" fill="none" stroke="#444" stroke-width="1.6"/>
<circle cx="1206.4" cy="1503" r="15" fill="#fff"/>
<line x1="1196.4" y1="1503" x2="1216.4" y2="1503" stroke="#555" stroke-width="1.5"/>
<line x1="1206.4" y1="1492" x2="1206.4" y2="1514" stroke="#555" stroke-width="1.5"/>
<path d="M1195.4 1495 q11 -4 22 0" fill="none" stroke="#444" stroke-width="1.6"/>
<circle cx="1244.3" cy="1503" r="15" fill="#fff"/>
<line x1="1234.3" y1="1503" x2="1254.3" y2="1503" stroke="#555" stroke-width="1.5"/>
<line x1="1244.3" y1="1492" x2="1244.3" y2="1514" stroke="#555" stroke-width="1.5"/>
<path d="M1233.3 1495 q11 -4 22 0" fill="none" stroke="#444" stroke-width="1.6"/>
<rect x="1205.5" y="1318.5" width="37.5" height="28.5" fill="#000" rx="3"/>
<polygon points="1212,1319 1225,1312.5 1238,1319" fill="#000"/>
<line x1="1210" y1="1326" x2="1239" y2="1326" stroke="#bbb" stroke-width="1.6"/>
<line x1="1210" y1="1334" x2="1239" y2="1334" stroke="#bbb" stroke-width="1.6"/>
<line x1="1210" y1="1340.5" x2="1239" y2="1340.5" stroke="#bbb" stroke-width="1.6"/>
<rect x="1192.8" y="1331" width="4.8" height="6" fill="#000"/>
<rect x="1258" y="1312.6" width="6.2" height="8.4" fill="#000" rx="1"/>
<rect x="1267.2" y="1312.6" width="6.2" height="8.4" fill="#000" rx="1"/>
<rect x="1258" y="1324.6" width="6.2" height="8.4" fill="#000" rx="1"/>
<rect x="1267.2" y="1324.6" width="6.2" height="8.4" fill="#000" rx="1"/>
<rect x="1248.5" y="1342.6" width="22" height="7.4" fill="#000" rx="2"/>
<rect x="1197.5" y="1352" width="59.5" height="7" fill="#000" rx="2"/>
<rect x="1205.5" y="1360.5" width="51.5" height="6.5" fill="#000" rx="2"/>
<line x1="1212" y1="1352" x2="1212" y2="1367" stroke="#fff" stroke-width="1.2"/>
<line x1="1222" y1="1352" x2="1222" y2="1367" stroke="#fff" stroke-width="1.2"/>
<line x1="1232" y1="1352" x2="1232" y2="1367" stroke="#fff" stroke-width="1.2"/>
<line x1="1243" y1="1352" x2="1243" y2="1367" stroke="#fff" stroke-width="1.2"/>
<line x1="1250" y1="1352" x2="1250" y2="1367" stroke="#fff" stroke-width="1.2"/>
<line x1="1197" y1="1359.8" x2="1258" y2="1359.8" stroke="#fff" stroke-width="1"/>
<line x1="1278.3" y1="1350" x2="1278.3" y2="1425" stroke="#888" stroke-width="1"/>
<line x1="1278.3" y1="1485" x2="1278.3" y2="1560" stroke="#888" stroke-width="1"/>
<line x1="1262.3" y1="1363.7" x2="1294.3" y2="1363.7" stroke="#555" stroke-width="1.5"/>
<line x1="1278.3" y1="1347.7" x2="1278.3" y2="1379.7" stroke="#555" stroke-width="1.5"/>
<path d="M1278.3 1355.3 Q1280.82 1361.18 1286.7 1363.7 Q1280.82 1366.22 1278.3 1372.1 Q1275.78 1366.22 1269.9 1363.7 Q1275.78 1361.18 1278.3 1355.3Z" fill="#000" stroke="none" stroke-width="0"/>
<circle cx="1278.3" cy="1363.7" r="5.54" fill="#000"/>
<line x1="1264.8" y1="1390" x2="1291.8" y2="1390" stroke="#555" stroke-width="1.5"/>
<line x1="1278.3" y1="1376.5" x2="1278.3" y2="1403.5" stroke="#555" stroke-width="1.5"/>
<path d="M1278.3 1383.6 Q1280.22 1388.08 1284.7 1390 Q1280.22 1391.92 1278.3 1396.4 Q1276.38 1391.92 1271.9 1390 Q1276.38 1388.08 1278.3 1383.6Z" fill="#000" stroke="none" stroke-width="0"/>
<circle cx="1278.3" cy="1390" r="4.22" fill="#000"/>
<line x1="1264.8" y1="1413.2" x2="1291.8" y2="1413.2" stroke="#555" stroke-width="1.5"/>
<line x1="1278.3" y1="1399.7" x2="1278.3" y2="1426.7" stroke="#555" stroke-width="1.5"/>
<path d="M1278.3 1406.8 Q1280.22 1411.28 1284.7 1413.2 Q1280.22 1415.12 1278.3 1419.6 Q1276.38 1415.12 1271.9 1413.2 Q1276.38 1411.28 1278.3 1406.8Z" fill="#000" stroke="none" stroke-width="0"/>
<circle cx="1278.3" cy="1413.2" r="4.22" fill="#000"/>
<line x1="1264.8" y1="1495.7" x2="1291.8" y2="1495.7" stroke="#555" stroke-width="1.5"/>
<line x1="1278.3" y1="1482.2" x2="1278.3" y2="1509.2" stroke="#555" stroke-width="1.5"/>
<path d="M1278.3 1489.3 Q1280.22 1493.78 1284.7 1495.7 Q1280.22 1497.62 1278.3 1502.1 Q1276.38 1497.62 1271.9 1495.7 Q1276.38 1493.78 1278.3 1489.3Z" fill="#000" stroke="none" stroke-width="0"/>
<circle cx="1278.3" cy="1495.7" r="4.22" fill="#000"/>
<line x1="1264.8" y1="1518" x2="1291.8" y2="1518" stroke="#555" stroke-width="1.5"/>
<line x1="1278.3" y1="1504.5" x2="1278.3" y2="1531.5" stroke="#555" stroke-width="1.5"/>
<path d="M1278.3 1511.6 Q1280.22 1516.08 1284.7 1518 Q1280.22 1519.92 1278.3 1524.4 Q1276.38 1519.92 1271.9 1518 Q1276.38 1516.08 1278.3 1511.6Z" fill="#000" stroke="none" stroke-width="0"/>
<circle cx="1278.3" cy="1518" r="4.22" fill="#000"/>
<line x1="1262.3" y1="1546" x2="1294.3" y2="1546" stroke="#555" stroke-width="1.5"/>
<line x1="1278.3" y1="1530" x2="1278.3" y2="1562" stroke="#555" stroke-width="1.5"/>
<path d="M1278.3 1537.6 Q1280.82 1543.48 1286.7 1546 Q1280.82 1548.52 1278.3 1554.4 Q1275.78 1548.52 1269.9 1546 Q1275.78 1543.48 1278.3 1537.6Z" fill="#000" stroke="none" stroke-width="0"/>
<circle cx="1278.3" cy="1546" r="5.54" fill="#000"/>
<rect x="1285.9" y="1434.8" width="14.7" height="33.9" fill="#000" rx="1.5"/>
<rect x="1309" y="1399.7" width="14.2" height="103.9" fill="#000" rx="1.5"/>
<line x1="1313.5" y1="1406" x2="1318.7" y2="1406" stroke="#c8c8c8" stroke-width="1.6"/>
<line x1="1313.5" y1="1417.4" x2="1318.7" y2="1417.4" stroke="#c8c8c8" stroke-width="1.6"/>
<line x1="1313.5" y1="1428.8" x2="1318.7" y2="1428.8" stroke="#c8c8c8" stroke-width="1.6"/>
<line x1="1313.5" y1="1440.2" x2="1318.7" y2="1440.2" stroke="#c8c8c8" stroke-width="1.6"/>
<line x1="1313.5" y1="1451.6" x2="1318.7" y2="1451.6" stroke="#c8c8c8" stroke-width="1.6"/>
<line x1="1313.5" y1="1463" x2="1318.7" y2="1463" stroke="#c8c8c8" stroke-width="1.6"/>
<line x1="1313.5" y1="1474.4" x2="1318.7" y2="1474.4" stroke="#c8c8c8" stroke-width="1.6"/>
<line x1="1313.5" y1="1485.8" x2="1318.7" y2="1485.8" stroke="#c8c8c8" stroke-width="1.6"/>
<line x1="1313.5" y1="1497.2" x2="1318.7" y2="1497.2" stroke="#c8c8c8" stroke-width="1.6"/>
<rect x="1331.8" y="1399.7" width="14.2" height="103.9" fill="#000" rx="1.5"/>
<line x1="1336.3" y1="1406" x2="1341.5" y2="1406" stroke="#c8c8c8" stroke-width="1.6"/>
<line x1="1336.3" y1="1417.4" x2="1341.5" y2="1417.4" stroke="#c8c8c8" stroke-width="1.6"/>
<line x1="1336.3" y1="1428.8" x2="1341.5" y2="1428.8" stroke="#c8c8c8" stroke-width="1.6"/>
<line x1="1336.3" y1="1440.2" x2="1341.5" y2="1440.2" stroke="#c8c8c8" stroke-width="1.6"/>
<line x1="1336.3" y1="1451.6" x2="1341.5" y2="1451.6" stroke="#c8c8c8" stroke-width="1.6"/>
<line x1="1336.3" y1="1463" x2="1341.5" y2="1463" stroke="#c8c8c8" stroke-width="1.6"/>
<line x1="1336.3" y1="1474.4" x2="1341.5" y2="1474.4" stroke="#c8c8c8" stroke-width="1.6"/>
<line x1="1336.3" y1="1485.8" x2="1341.5" y2="1485.8" stroke="#c8c8c8" stroke-width="1.6"/>
<line x1="1336.3" y1="1497.2" x2="1341.5" y2="1497.2" stroke="#c8c8c8" stroke-width="1.6"/>
<rect x="1355.2" y="1399.7" width="14.1" height="103.9" fill="#000" rx="1.5"/>
<line x1="1359.65" y1="1406" x2="1364.85" y2="1406" stroke="#c8c8c8" stroke-width="1.6"/>
<line x1="1359.65" y1="1417.4" x2="1364.85" y2="1417.4" stroke="#c8c8c8" stroke-width="1.6"/>
<line x1="1359.65" y1="1428.8" x2="1364.85" y2="1428.8" stroke="#c8c8c8" stroke-width="1.6"/>
<line x1="1359.65" y1="1440.2" x2="1364.85" y2="1440.2" stroke="#c8c8c8" stroke-width="1.6"/>
<line x1="1359.65" y1="1451.6" x2="1364.85" y2="1451.6" stroke="#c8c8c8" stroke-width="1.6"/>
<line x1="1359.65" y1="1463" x2="1364.85" y2="1463" stroke="#c8c8c8" stroke-width="1.6"/>
<line x1="1359.65" y1="1474.4" x2="1364.85" y2="1474.4" stroke="#c8c8c8" stroke-width="1.6"/>
<line x1="1359.65" y1="1485.8" x2="1364.85" y2="1485.8" stroke="#c8c8c8" stroke-width="1.6"/>
<line x1="1359.65" y1="1497.2" x2="1364.85" y2="1497.2" stroke="#c8c8c8" stroke-width="1.6"/>
<line x1="1290.5" y1="1443" x2="1296" y2="1443" stroke="#c8c8c8" stroke-width="1.5"/>
<line x1="1290.5" y1="1452" x2="1296" y2="1452" stroke="#c8c8c8" stroke-width="1.5"/>
<line x1="1290.5" y1="1461" x2="1296" y2="1461" stroke="#c8c8c8" stroke-width="1.5"/>
<polygon points="1305.5,1451 1309,1447 1309,1455" fill="#000"/>
<polygon points="1326.5,1451 1323,1447 1323,1455" fill="#000"/>
<line x1="1934" y1="1306.7" x2="2275" y2="1306.7" stroke="#4d4d4d" stroke-width="1.8"/>
<line x1="1766" y1="1601.3" x2="2275" y2="1601.3" stroke="#4d4d4d" stroke-width="1.8"/>
<line x1="2258.9" y1="1306.7" x2="2258.9" y2="1601.3" stroke="#4d4d4d" stroke-width="1.8"/>
<polygon points="2258.9,1306.7 2263.5,1335.7 2254.3,1335.7" fill="#111"/>
<polygon points="2258.9,1601.3 2254.3,1572.3 2263.5,1572.3" fill="#111"/>
<text transform="translate(2250 1455) rotate(-90)" x="-1.3" y="0" font-size="45.34" textLength="33.2" lengthAdjust="spacingAndGlyphs" fill="#404040">82</text>
<line x1="1946" y1="1345.5" x2="2162.5" y2="1345.5" stroke="#4d4d4d" stroke-width="1.8"/>
<line x1="1696.4" y1="1564.5" x2="1908" y2="1564.5" stroke="#4d4d4d" stroke-width="1.8"/>
<line x1="1946" y1="1564.5" x2="2218" y2="1564.5" stroke="#4d4d4d" stroke-width="1.8"/>
<line x1="2148.9" y1="1345.5" x2="2148.9" y2="1564.5" stroke="#4d4d4d" stroke-width="1.8"/>
<polygon points="2148.9,1345.5 2153.5,1374.5 2144.3,1374.5" fill="#111"/>
<polygon points="2148.9,1564.5 2144.3,1535.5 2153.5,1535.5" fill="#111"/>
<text transform="translate(2137.5 1469.3) rotate(-90)" x="-1.25" y="0" font-size="40.4" textLength="27.46" lengthAdjust="spacingAndGlyphs" fill="#404040">61</text>
<line x1="1696.4" y1="1345.5" x2="1867" y2="1345.5" stroke="#4d4d4d" stroke-width="1.8"/>
<line x1="1710.7" y1="1345.5" x2="1710.7" y2="1564.5" stroke="#4d4d4d" stroke-width="1.8"/>
<polygon points="1710.7,1345.5 1715.3,1374.5 1706.1,1374.5" fill="#111"/>
<polygon points="1710.7,1564.5 1706.1,1535.5 1715.3,1535.5" fill="#111"/>
<text transform="translate(1700 1494.3) rotate(-90)" x="-1.62" y="0" font-size="42.94" textLength="79.66" lengthAdjust="spacingAndGlyphs" fill="#404040">60.50</text>
<line x1="1780.4" y1="1517.5" x2="1780.4" y2="1712" stroke="#4d4d4d" stroke-width="1.8"/>
<polygon points="1780.4,1564.5 1775.8,1535.5 1785,1535.5" fill="#111"/>
<polygon points="1780.4,1601.3 1785,1630.3 1775.8,1630.3" fill="#111"/>
<text transform="translate(1769.6 1708.6) rotate(-90)" x="-2.34" y="0" font-size="42.8" textLength="76.73" lengthAdjust="spacingAndGlyphs" fill="#404040">10.60</text>
<line x1="2204.6" y1="1519.3" x2="2204.6" y2="1705" stroke="#4d4d4d" stroke-width="1.8"/>
<polygon points="2204.6,1564.5 2200,1535.5 2209.2,1535.5" fill="#111"/>
<polygon points="2204.6,1601.3 2209.2,1630.3 2200,1630.3" fill="#111"/>
<text transform="translate(2194.6 1701.4) rotate(-90)" x="-2.34" y="0" font-size="42.8" textLength="76.73" lengthAdjust="spacingAndGlyphs" fill="#404040">10.40</text>
<line x1="1867.1" y1="1345.5" x2="1867.1" y2="1892.5" stroke="#4d4d4d" stroke-width="1.8"/>
<line x1="2047.5" y1="1345.5" x2="2047.5" y2="1892.5" stroke="#4d4d4d" stroke-width="1.8"/>
<line x1="1934.6" y1="1601.3" x2="1934.6" y2="1718.6" stroke="#4d4d4d" stroke-width="1.8"/>
<line x1="1939.3" y1="1601.3" x2="1939.3" y2="1798" stroke="#4d4d4d" stroke-width="1.8"/>
<line x1="1821.4" y1="1704.3" x2="1980.4" y2="1704.3" stroke="#4d4d4d" stroke-width="1.8"/>
<polygon points="1867.1,1704.3 1838.1,1708.9 1838.1,1699.7" fill="#111"/>
<polygon points="1934.6,1704.3 1963.6,1699.7 1963.6,1708.9" fill="#111"/>
<text x="1881.43" y="1694.3" font-size="40.4" textLength="36.11" lengthAdjust="spacingAndGlyphs" fill="#404040">19</text>
<line x1="1894.6" y1="1783.6" x2="2092.9" y2="1783.6" stroke="#4d4d4d" stroke-width="1.8"/>
<polygon points="1939.3,1783.6 1910.3,1788.2 1910.3,1779" fill="#111"/>
<polygon points="2047.5,1783.6 2076.5,1779 2076.5,1788.2" fill="#111"/>
<text x="1982.72" y="1772.9" font-size="40.4" textLength="34.49" lengthAdjust="spacingAndGlyphs" fill="#404040">30</text>
<line x1="1867.1" y1="1877.1" x2="2047.5" y2="1877.1" stroke="#4d4d4d" stroke-width="1.8"/>
<polygon points="1867.1,1877.1 1896.1,1872.5 1896.1,1881.7" fill="#111"/>
<polygon points="2047.5,1877.1 2018.5,1881.7 2018.5,1872.5" fill="#111"/>
<text x="1905.8" y="1867.5" font-size="42.94" textLength="81.17" lengthAdjust="spacingAndGlyphs" fill="#404040">50.60</text>
<rect x="1867.1" y="1345.6" width="40.5" height="218.6" fill="none" stroke="#444" stroke-width="2.2"/>
<line x1="1909.8" y1="1350" x2="1909.8" y2="1560" stroke="#444" stroke-width="2"/>
<line x1="1907.6" y1="1353.2" x2="1934" y2="1353.2" stroke="#222" stroke-width="2.8"/>
<line x1="1907.6" y1="1357" x2="1934" y2="1357" stroke="#222" stroke-width="2.8"/>
<line x1="1907.6" y1="1369.2" x2="1934" y2="1369.2" stroke="#222" stroke-width="2.8"/>
<line x1="1907.6" y1="1372.6" x2="1934" y2="1372.6" stroke="#222" stroke-width="2.8"/>
<line x1="1907.6" y1="1405.2" x2="1934" y2="1405.2" stroke="#222" stroke-width="2.8"/>
<line x1="1907.6" y1="1412.6" x2="1934" y2="1412.6" stroke="#222" stroke-width="2.8"/>
<line x1="1907.6" y1="1442.6" x2="1934" y2="1442.6" stroke="#222" stroke-width="2.8"/>
<line x1="1907.6" y1="1449.4" x2="1934" y2="1449.4" stroke="#222" stroke-width="2.8"/>
<line x1="1907.6" y1="1535.4" x2="1934" y2="1535.4" stroke="#222" stroke-width="2.8"/>
<line x1="1907.6" y1="1539.6" x2="1934" y2="1539.6" stroke="#222" stroke-width="2.8"/>
<line x1="1907.6" y1="1551.4" x2="1934" y2="1551.4" stroke="#222" stroke-width="2.8"/>
<line x1="1907.6" y1="1555.6" x2="1934" y2="1555.6" stroke="#222" stroke-width="2.8"/>
<line x1="1930.4" y1="1372" x2="1930.4" y2="1536" stroke="#444" stroke-width="2.4"/>
<line x1="1946" y1="1345.8" x2="2047.5" y2="1345.8" stroke="#3a3a3a" stroke-width="5"/>
<line x1="1992" y1="1398.2" x2="2047.5" y2="1398.2" stroke="#3a3a3a" stroke-width="5"/>
<line x1="1998" y1="1453.4" x2="2047.5" y2="1453.4" stroke="#3a3a3a" stroke-width="5"/>
<line x1="1990" y1="1509.6" x2="2047.5" y2="1509.6" stroke="#3a3a3a" stroke-width="5"/>
<line x1="1946" y1="1563.2" x2="2047.5" y2="1563.2" stroke="#3a3a3a" stroke-width="5"/>
<line x1="2045.4" y1="1343.4" x2="2045.4" y2="1565.6" stroke="#444" stroke-width="5.4"/>
<path d="M1939 1308 C1950 1309 1952 1318 1958 1318.5 L1969 1318.5 L1969 1344" fill="none" stroke="#000" stroke-width="3.4" stroke-linejoin="round"/>
<path d="M1939 1308 L1947 1310 L1951 1330 L1947 1343 L1939 1343Z" fill="#000" stroke="none" stroke-width="0"/>
<line x1="1951" y1="1326" x2="1969" y2="1326" stroke="#333" stroke-width="2.4"/>
<line x1="1926" y1="1330.6" x2="1934" y2="1330.6" stroke="#000" stroke-width="3"/>
<line x1="1926" y1="1337.2" x2="1934" y2="1337.2" stroke="#000" stroke-width="3"/>
<path d="M1939 1353 L1973 1353 Q1977.5 1353 1977.5 1358 L1977.5 1386" fill="none" stroke="#000" stroke-width="3.2"/>
<line x1="1968" y1="1358" x2="1968" y2="1386" stroke="#333" stroke-width="2.6"/>
<path d="M1943 1360 Q1956 1366 1950 1384" fill="none" stroke="#000" stroke-width="3"/>
<line x1="1946" y1="1386.5" x2="1978" y2="1386.5" stroke="#333" stroke-width="3"/>
<path d="M1939 1556 L1973 1556 Q1977.5 1556 1977.5 1551 L1977.5 1516" fill="none" stroke="#000" stroke-width="3.2"/>
<line x1="1968" y1="1551" x2="1968" y2="1516" stroke="#333" stroke-width="2.6"/>
<path d="M1943 1549 Q1956 1543 1950 1524" fill="none" stroke="#000" stroke-width="3"/>
<path d="M1939 1394 C1960 1388 1990 1390 2000 1400 C2006 1410 2008 1424 2011 1433 C2014 1441 2010 1447 2004 1451 L2004 1453 C2010 1457 2014 1463 2011 1471 C2008 1480 2006 1494 2000 1503 C1990 1513 1960 1515 1939 1509Z" fill="#000" stroke="none" stroke-width="0"/>
<rect x="1959.6" y="1422.5" width="27" height="59.5" fill="#fff" rx="3"/>
<path d="M1956 1415.5 Q1973 1406 1990 1415.5" fill="none" stroke="#fff" stroke-width="3.6"/>
<path d="M1956 1489 Q1973 1498.5 1990 1489" fill="none" stroke="#fff" stroke-width="3.6"/>
<path d="M1952 1404 Q1973 1395.5 1994 1404" fill="none" stroke="#ddd" stroke-width="1.8"/>
<path d="M1952 1500.5 Q1973 1509 1994 1500.5" fill="none" stroke="#ddd" stroke-width="1.8"/>
<path d="M1946 1410 L1946 1494" fill="none" stroke="#eee" stroke-width="2"/>
<path d="M1950 1400 Q1943.5 1452 1950 1504" fill="none" stroke="#bbb" stroke-width="1.6"/>
<line x1="1958" y1="1420" x2="1958" y2="1484" stroke="#888" stroke-width="2"/>
<line x1="1988.5" y1="1420" x2="1988.5" y2="1484" stroke="#888" stroke-width="2"/>
<rect x="1926" y="1426" width="8.5" height="16" fill="#000" rx="3"/>
<rect x="1926" y="1463.6" width="8.5" height="20.4" fill="#000" rx="3"/>
<path d="M1931 1385 L1931 1535" fill="none" stroke="#000" stroke-width="2.4"/>
<path d="M1939.4 1565 C1962 1567 1962 1599 1939.4 1601" fill="none" stroke="#000" stroke-width="3"/>
<path d="M1939.4 1566 L1948 1570 L1950 1583 L1948 1596 L1939.4 1600Z" fill="#000" stroke="none" stroke-width="0"/>
<rect x="1955" y="1561.6" width="10" height="4" fill="#000" rx="2"/>
<rect x="1934.2" y="1306.7" width="5.1" height="294.6" fill="#909090" stroke="#222" stroke-width="2.1"/>
<line x1="743.3" y1="1895.8" x2="743.3" y2="2112" stroke="#4d4d4d" stroke-width="1.8"/>
<line x1="1386.3" y1="1895.8" x2="1386.3" y2="2112" stroke="#4d4d4d" stroke-width="1.8"/>
<line x1="743.3" y1="1909.8" x2="1386.3" y2="1909.8" stroke="#4d4d4d" stroke-width="1.8"/>
<polygon points="743.3,1909.8 772.3,1905.2 772.3,1914.4" fill="#111"/>
<polygon points="1386.3,1909.8 1357.3,1914.4 1357.3,1905.2" fill="#111"/>
<text x="1020.2" y="1898.8" font-size="40.4" textLength="46.08" lengthAdjust="spacingAndGlyphs" fill="#404040">180</text>
<line x1="879.6" y1="1956" x2="879.6" y2="2043" stroke="#4d4d4d" stroke-width="1.8"/>
<line x1="1296.3" y1="1956" x2="1296.3" y2="2043" stroke="#4d4d4d" stroke-width="1.8"/>
<line x1="743.3" y1="1971.5" x2="879.6" y2="1971.5" stroke="#4d4d4d" stroke-width="1.8"/>
<polygon points="743.3,1971.5 772.3,1966.9 772.3,1976.1" fill="#111"/>
<polygon points="879.6,1971.5 850.6,1976.1 850.6,1966.9" fill="#111"/>
<line x1="879.6" y1="1971.5" x2="1296.3" y2="1971.5" stroke="#4d4d4d" stroke-width="1.8"/>
<polygon points="879.6,1971.5 908.6,1966.9 908.6,1976.1" fill="#111"/>
<polygon points="1296.3,1971.5 1267.3,1976.1 1267.3,1966.9" fill="#111"/>
<text x="776.81" y="1959.1" font-size="40.4" textLength="78" lengthAdjust="spacingAndGlyphs" fill="#404040">38.20</text>
<text x="1030.14" y="1959.1" font-size="40.4" textLength="92.47" lengthAdjust="spacingAndGlyphs" fill="#404040">116.50</text>
<line x1="658" y1="2043.1" x2="879.6" y2="2043.1" stroke="#4d4d4d" stroke-width="1.8"/>
<line x1="658" y1="2225.1" x2="1042.9" y2="2225.1" stroke="#4d4d4d" stroke-width="1.8"/>
<line x1="672.8" y1="2043.1" x2="672.8" y2="2225.1" stroke="#4d4d4d" stroke-width="1.8"/>
<polygon points="672.8,2043.1 677.4,2072.1 668.2,2072.1" fill="#111"/>
<polygon points="672.8,2225.1 668.2,2196.1 677.4,2196.1" fill="#111"/>
<text transform="translate(660.7 2175.2) rotate(-90)" x="-1.26" y="0" font-size="42.37" textLength="78.48" lengthAdjust="spacingAndGlyphs" fill="#404040">50.60</text>
<rect x="879.8" y="2043.1" width="416.5" height="40.5" fill="none" stroke="#444" stroke-width="2.2"/>
<rect x="887.6" y="2083.6" width="19.4" height="27.4" fill="none" stroke="#555" stroke-width="1.8"/>
<line x1="897.3" y1="2083.6" x2="897.3" y2="2111" stroke="#666" stroke-width="1.6"/>
<path d="M894.6 2116 L894.6 2130 Q897.3 2134 900 2130 L900 2116" fill="none" stroke="#333" stroke-width="1.8"/>
<rect x="1267.6" y="2083.6" width="19.4" height="27.4" fill="none" stroke="#555" stroke-width="1.8"/>
<line x1="1277.3" y1="2083.6" x2="1277.3" y2="2111" stroke="#666" stroke-width="1.6"/>
<path d="M1274.6 2116 L1274.6 2130 Q1277.3 2134 1280 2130 L1280 2116" fill="none" stroke="#333" stroke-width="1.8"/>
<rect x="1020.3" y="2083.6" width="127.4" height="23" fill="none" stroke="#555" stroke-width="2"/>
<rect x="1021" y="2105.5" width="127" height="5.5" fill="#777"/>
<rect x="1183" y="2083.6" width="76" height="27.4" fill="none" stroke="#555" stroke-width="2"/>
<rect x="1206.6" y="2086" width="50.4" height="25" fill="#222"/>
<line x1="1212.5" y1="2088" x2="1212.5" y2="2104" stroke="#ddd" stroke-width="2.2"/>
<line x1="1221" y1="2088" x2="1221" y2="2104" stroke="#ddd" stroke-width="2.2"/>
<line x1="1229.5" y1="2088" x2="1229.5" y2="2104" stroke="#ddd" stroke-width="2.2"/>
<line x1="1238" y1="2088" x2="1238" y2="2104" stroke="#ddd" stroke-width="2.2"/>
<line x1="1246.5" y1="2088" x2="1246.5" y2="2104" stroke="#ddd" stroke-width="2.2"/>
<line x1="1206.6" y1="2086.5" x2="1257" y2="2086.5" stroke="#ddd" stroke-width="2"/>
<rect x="746.6" y="2116" width="29.8" height="38.6" fill="none" stroke="#2a2a2a" stroke-width="2.6"/>
<rect x="746.6" y="2148" width="29.8" height="6.6" fill="#777"/>
<path d="M747.5 2111 L752.3 2105.2 L757 2111 M768.5 2111 L773.3 2105.2 L778 2111" fill="none" stroke="#222" stroke-width="2.6" stroke-linejoin="round"/>
<path d="M788.5 2103.5 Q800 2105 807 2110.5 M855.5 2103.5 Q866 2105 873 2110.5" fill="none" stroke="#000" stroke-width="4.2" stroke-linecap="round"/>
<path d="M778 2116.5 C771 2136 772 2168 790 2183 C797 2190 806 2192 813 2186 C820 2184.5 826 2185.5 832 2185.5 L858 2186 C866 2187 872 2184 876 2177 C886 2160 886 2134 879 2116.5Z" fill="#000" stroke="#000" stroke-width="3" stroke-linejoin="round"/>
<path d="M786 2176 Q792 2184 803 2186.5" fill="none" stroke="#fff" stroke-width="2.2" stroke-linecap="round"/>
<path d="M784.1 2138 Q781.1 2150 784.1 2162.5" fill="none" stroke="#fff" stroke-width="5" stroke-linecap="round"/>
<rect x="781.9" y="2129.6" width="4.4" height="4" fill="#fff" rx="1.2"/>
<rect x="781.9" y="2167.2" width="4.4" height="4.6" fill="#fff" rx="1.2"/>
<path d="M793.9 2138 Q791.5 2150 793.9 2162.5" fill="none" stroke="#fff" stroke-width="7" stroke-linecap="round"/>
<rect x="790.7" y="2129.6" width="6.4" height="4" fill="#fff" rx="1.2"/>
<rect x="790.7" y="2167.2" width="6.4" height="4.6" fill="#fff" rx="1.2"/>
<path d="M808.3 2138 Q807.1 2150 808.3 2162.5" fill="none" stroke="#fff" stroke-width="9.8" stroke-linecap="round"/>
<rect x="803.7" y="2129.6" width="9.2" height="4" fill="#fff" rx="1.2"/>
<rect x="803.7" y="2167.2" width="9.2" height="4.6" fill="#fff" rx="1.2"/>
<path d="M822.8 2138 Q822.4 2150 822.8 2162.5" fill="none" stroke="#fff" stroke-width="9.2" stroke-linecap="round"/>
<rect x="818.5" y="2129.6" width="8.6" height="4" fill="#fff" rx="1.2"/>
<rect x="818.5" y="2167.2" width="8.6" height="4.6" fill="#fff" rx="1.2"/>
<path d="M836.8 2138 Q837.2 2150 836.8 2162.5" fill="none" stroke="#fff" stroke-width="9.2" stroke-linecap="round"/>
<rect x="832.5" y="2129.6" width="8.6" height="4" fill="#fff" rx="1.2"/>
<rect x="832.5" y="2167.2" width="8.6" height="4.6" fill="#fff" rx="1.2"/>
<path d="M851.6 2138 Q852.8 2150 851.6 2162.5" fill="none" stroke="#fff" stroke-width="9.2" stroke-linecap="round"/>
<rect x="847.3" y="2129.6" width="8.6" height="4" fill="#fff" rx="1.2"/>
<rect x="847.3" y="2167.2" width="8.6" height="4.6" fill="#fff" rx="1.2"/>
<path d="M865.3 2138 Q867.7 2150 865.3 2162.5" fill="none" stroke="#fff" stroke-width="6.6" stroke-linecap="round"/>
<rect x="862.3" y="2129.6" width="6" height="4" fill="#fff" rx="1.2"/>
<rect x="862.3" y="2167.2" width="6" height="4.6" fill="#fff" rx="1.2"/>
<path d="M874.4 2138 Q877.4 2150 874.4 2162.5" fill="none" stroke="#fff" stroke-width="4.8" stroke-linecap="round"/>
<rect x="872.3" y="2129.6" width="4.2" height="4" fill="#fff" rx="1.2"/>
<rect x="872.3" y="2167.2" width="4.2" height="4.6" fill="#fff" rx="1.2"/>
<rect x="797" y="2120.2" width="18.3" height="6.6" fill="#fff" rx="3"/>
<rect x="836.3" y="2120.2" width="18.4" height="6.6" fill="#fff" rx="3"/>
<line x1="800.4" y1="2137" x2="800.4" y2="2164" stroke="#b0b0b0" stroke-width="1.3"/>
<line x1="815.7" y1="2137" x2="815.7" y2="2164" stroke="#b0b0b0" stroke-width="1.3"/>
<line x1="829.8" y1="2137" x2="829.8" y2="2164" stroke="#b0b0b0" stroke-width="1.3"/>
<line x1="844.2" y1="2137" x2="844.2" y2="2164" stroke="#b0b0b0" stroke-width="1.3"/>
<line x1="859.1" y1="2137" x2="859.1" y2="2164" stroke="#b0b0b0" stroke-width="1.3"/>
<rect x="928.6" y="2116.3" width="114" height="108.1" fill="#fff" stroke="#222" stroke-width="4.6" rx="3"/>
<rect x="946" y="2116" width="16" height="7" fill="#222" rx="2"/>
<rect x="970" y="2116" width="16" height="7" fill="#222" rx="2"/>
<path d="M994 2120 a12 6 0 1 0 24 0 a12 6 0 1 0 -24 0" fill="#fff" stroke="#222" stroke-width="2.2"/>
<path d="M1060 2120 a12 6 0 1 0 24 0 a12 6 0 1 0 -24 0" fill="#fff" stroke="#222" stroke-width="2.2"/>
<rect x="1074.2" y="2116.3" width="189" height="37.3" fill="none" stroke="#111" stroke-width="4"/>
<line x1="1111.3" y1="2116" x2="1111.3" y2="2154" stroke="#111" stroke-width="4"/>
<line x1="1148.8" y1="2116" x2="1148.8" y2="2154" stroke="#111" stroke-width="4"/>
<line x1="1187.3" y1="2116" x2="1187.3" y2="2154" stroke="#111" stroke-width="4"/>
<rect x="1086" y="2116" width="20" height="5" fill="#111"/>
<rect x="1116" y="2116" width="10" height="5" fill="#111"/>
<rect x="1135" y="2116" width="9" height="5" fill="#111"/>
<rect x="1154" y="2116" width="10" height="5" fill="#111"/>
<rect x="1172" y="2116" width="10" height="5" fill="#111"/>
<rect x="1192" y="2116" width="10" height="5" fill="#111"/>
<path d="M1204 2118 L1204 2143 Q1204 2146 1208 2144 L1212 2136 L1232 2136 L1236 2144 Q1240 2146 1240 2143 L1240 2118" fill="none" stroke="#111" stroke-width="2.8"/>
<rect x="1216" y="2130" width="12" height="7" fill="#111" rx="2"/>
<line x1="1222" y1="2137" x2="1222" y2="2153" stroke="#111" stroke-width="3"/>
<rect x="1241" y="2116" width="18" height="12" fill="#111"/>
<rect x="1287" y="2117" width="13" height="7" fill="#222"/>
<rect x="1341" y="2117" width="4" height="7" fill="#222"/>
<rect x="1355" y="2117" width="14" height="7" fill="#222"/>
<rect x="1306.4" y="2116" width="34" height="38.6" fill="none" stroke="#2a2a2a" stroke-width="2.6"/>
<rect x="1306.4" y="2148" width="34" height="6.6" fill="#777"/>
<path d="M1307 2111 L1311.5 2105.2 L1316 2111 M1328.5 2111 L1333 2105.2 L1337.5 2111" fill="none" stroke="#222" stroke-width="2.6" stroke-linejoin="round"/>
<path d="M792 2111 L792 2106 M1041 2111 L1041 2107" fill="none" stroke="#222" stroke-width="3"/>
<rect x="743.3" y="2110.8" width="643" height="5.2" fill="#808080" stroke="#2a2a2a" stroke-width="2.2"/>
</g>
</svg>
</body>
</html>
